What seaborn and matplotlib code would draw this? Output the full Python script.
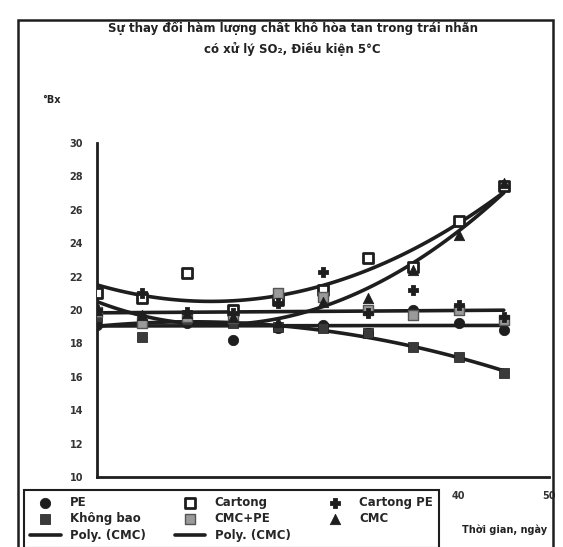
import numpy as np
import pandas as pd
import matplotlib
matplotlib.use("Agg")
import matplotlib.pyplot as plt
import seaborn as sns
from matplotlib.patches import Rectangle
from matplotlib.lines import Line2D

sns.set_style("white")
plt.rcParams['font.family'] = ['DejaVu Sans']

# ---- data ----
days = [0, 5, 10, 15, 20, 25, 30, 35, 40, 45]
pe = [19.1, 19.5, 19.2, 18.2, 18.9, 19.1, 18.6, 20.0, 19.2, 18.8]
khong_bao = [19.6, 18.4, 19.4, 19.2, 19.0, 18.9, 18.6, 17.8, 17.2, 16.2]
cartong = [21.0, 20.7, 22.2, 20.0, 20.6, 21.2, 23.1, 22.6, 25.3, 27.4]
cmc_pe = [19.9, 19.2, 19.6, 19.5, 21.0, 20.8, 20.0, 19.7, 20.0, 19.4]
cartong_pe = [20.0, 21.0, 19.9, 19.8, 20.4, 22.3, 19.8, 21.2, 20.3, 19.6]
cmc = [20.0, 19.7, 19.8, 19.6, 19.3, 20.5, 20.7, 22.4, 24.5, 27.6]

title = "Sự thay đổi hàm lượng chất khô hòa tan trong trái nhãn\ncó xử lý SO₂, Điều kiện 5°C"
ylabel = "°Bx"
xlabel = "Thời gian, ngày"
yticks = [10, 12, 14, 16, 18, 20, 22, 24, 26, 28, 30]
xticks = [0, 10, 20, 30, 40, 50]
xticklabels = ["", "", "", "", "40", "50"]

df = pd.DataFrame({"day": days, "PE": pe, "Không bao": khong_bao, "Cartong": cartong,
                   "CMC+PE": cmc_pe, "Cartong PE": cartong_pe, "CMC": cmc})

W, H = 563, 547
fig = plt.figure(figsize=(W / 100, H / 100), dpi=100)
fig.patch.set_facecolor("white")
ax = fig.add_axes([97 / W, 1 - 477 / H, (549 - 97) / W, (477 - 143) / H])

ink = "#1e1e1e"

# trendlines
line_kw = dict(color=ink, lw=2.6)
sns.regplot(data=df, x="day", y="Cartong", order=2, scatter=False, ci=None, ax=ax,
            line_kws=line_kw, truncate=True)
sns.regplot(data=df, x="day", y="CMC", order=2, scatter=False, ci=None, ax=ax,
            line_kws=line_kw, truncate=True)
sns.regplot(data=df, x="day", y="CMC+PE", order=1, scatter=False, ci=None, ax=ax,
            line_kws=line_kw, truncate=True)
sns.regplot(data=df, x="day", y="PE", order=1, scatter=False, ci=None, ax=ax,
            line_kws=line_kw, truncate=True)
sns.regplot(data=df, x="day", y="Không bao", order=2, scatter=False, ci=None, ax=ax,
            line_kws=line_kw, truncate=True)

# scatter markers
sns.scatterplot(data=df, x="day", y="PE", marker="o", s=55, color=ink, edgecolor=ink,
                ax=ax, label="PE", zorder=5)
sns.scatterplot(data=df, x="day", y="Không bao", marker="s", s=45, color="#3a3a3a",
                edgecolor=ink, ax=ax, label="Không bao", zorder=5)
sns.scatterplot(data=df, x="day", y="Cartong", marker="s", s=55, facecolor="white",
                edgecolor=ink, linewidth=2, ax=ax, label="Cartong", zorder=5)
sns.scatterplot(data=df, x="day", y="CMC+PE", marker="s", s=45, color="#9a9a9a",
                edgecolor="#555555", linewidth=1, ax=ax, label="CMC+PE", zorder=5)
sns.scatterplot(data=df, x="day", y="Cartong PE", marker="P", s=55, color=ink,
                edgecolor=ink, ax=ax, label="Cartong PE", zorder=5)
sns.scatterplot(data=df, x="day", y="CMC", marker="^", s=55, color=ink,
                edgecolor=ink, ax=ax, label="CMC", zorder=5)

ax.set_xlim(0, 50)
ax.set_ylim(10, 30)
ax.set_xticks(xticks)
ax.set_yticks(yticks)
ax.set_xticklabels(xticklabels, fontsize=7, color="#333333", fontweight="bold")
ax.set_yticklabels([str(v) for v in yticks], fontsize=7, color="#333333", fontweight="bold")
ax.set_xlabel("")
ax.set_ylabel("")
for sp in ["top", "right"]:
    ax.spines[sp].set_visible(False)
for sp in ["left", "bottom"]:
    ax.spines[sp].set_color(ink)
    ax.spines[sp].set_linewidth(2)
ax.tick_params(axis="x", direction="out", length=6, width=1.5, color=ink, pad=4)
ax.tick_params(axis="y", direction="out", length=0, pad=10)

# collect legend, remove axes legend
handles, labels = ax.get_legend_handles_labels()
if ax.get_legend() is not None:
    ax.get_legend().remove()
hmap = dict(zip(labels, handles))
poly1 = Line2D([], [], color=ink, lw=2.6)
poly2 = Line2D([], [], color=ink, lw=2.6)
hs = [hmap["PE"], hmap["Không bao"], poly1, hmap["Cartong"], hmap["CMC+PE"], poly2,
      hmap["Cartong PE"], hmap["CMC"]]
ls = ["PE", "Không bao", "Poly. (CMC)", "Cartong", "CMC+PE", "Poly. (CMC)", "Cartong PE", "CMC"]
leg = fig.legend(hs, ls, ncol=3,
                 loc="upper left", bbox_to_anchor=(18 / W, 1 - 484 / H, (445 - 18) / W, 0.0),
                 mode="expand", frameon=True, fancybox=False,
                 handlelength=2.6, borderpad=0.5, labelspacing=0.3,
                 prop={"weight": "bold", "size": 8.5})
leg.get_frame().set_edgecolor(ink)
leg.get_frame().set_linewidth(1.5)
leg.get_frame().set_facecolor("white")
leg.get_frame().set_alpha(1)

# titles / labels
fig.text(0.52, 1 - 38 / H, title, ha="center", va="center", fontsize=8.5,
         fontweight="bold", color="#222222", linespacing=1.6)
fig.text(42 / W, 1 - 100 / H, ylabel, ha="left", va="center", fontsize=7,
         fontweight="bold", color="#222222")
fig.text(505 / W, 1 - 530 / H, xlabel, ha="center", va="center", fontsize=7,
         fontweight="bold", color="#222222")

# outer frame
fig.patches.append(Rectangle((18 / W, -0.01), (W - 10 - 18) / W, 1 - 20 / H + 0.01,
                             transform=fig.transFigure, fill=False, edgecolor=ink,
                             linewidth=1.8, zorder=0))

fig.savefig("out.png", dpi=100, facecolor="white")
